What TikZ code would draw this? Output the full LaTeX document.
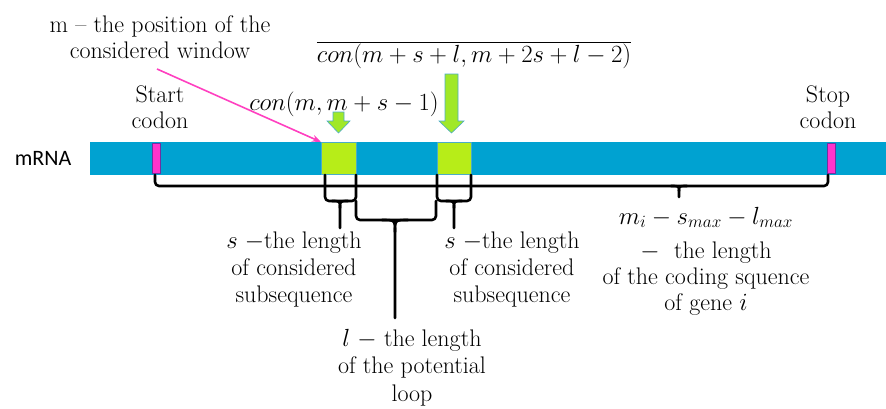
\documentclass[tikz,border=0pt]{standalone}
\usepackage{fontspec}
\newfontfamily\carl{Carlito}
\usetikzlibrary{arrows.meta}
\definecolor{barblue}{RGB}{0,162,209}
\definecolor{boxgreen}{RGB}{183,237,24}
\definecolor{arrgreen}{RGB}{160,232,40}
\definecolor{arredge}{RGB}{75,172,198}
\definecolor{markmag}{RGB}{255,51,204}
\definecolor{markedge}{RGB}{112,48,160}
\definecolor{pinkarr}{RGB}{255,64,192}
\begin{document}
\begin{tikzpicture}[x=1bp,y=-1bp,
  lbl/.style={inner sep=0pt,align=center,font=\fontsize{24bp}{27bp}\selectfont},
  brk/.style={line width=2.6bp,black,line cap=round,line join=round},
  gbox/.style={fill=boxgreen,draw=arredge,line width=0.6bp},
  gmark/.style={fill=markmag,draw=markedge,line width=0.8bp},
  garrow/.style={fill=arrgreen,draw=arredge,line width=0.6bp}]
\useasboundingbox (0,0) rectangle (886,408);
% bar
\fill[barblue] (90,142) rectangle (886,175);
\path[gmark] (152,143) rectangle (160,173);
\path[gmark] (827,143) rectangle (835,173);
\path[gbox] (321,142) rectangle (356,174);
\path[gbox] (437,142) rectangle (471,174);
\coordinate (box1nw) at (321,142);
% mRNA label
\node[inner sep=0pt,font=\carl\fontsize{22bp}{24bp}\selectfont] (mrna) at (43,158) {mRNA};
% green arrows
\path[garrow] (333,112) -- (344,112) -- (344,121) -- (350,121) -- (338.5,133) -- (327,121) -- (333,121) -- cycle;
\path[garrow] (445,74) -- (458,74) -- (458,121) -- (464,121) -- (451.5,133) -- (439,121) -- (445,121) -- cycle;
% labels
\node[lbl,anchor=north,font=\fontsize{24bp}{26bp}\selectfont] (win) at (160,15) {m -- the position of the\\considered window};
\node[lbl,anchor=north,font=\fontsize{24bp}{26bp}\selectfont] (start) at (160,86) {Start\\codon};
\node[lbl,anchor=north,font=\fontsize{24bp}{26bp}\selectfont] (stop) at (828,86) {Stop\\codon};
\node[lbl,anchor=base] (con1) at (344,110) {$con(m,m+s-1)$};
\node[lbl,anchor=base] (con2) at (474,62) {$\overline{con(m+s+l,m+2s+l-2)}$};
\node[lbl,anchor=north] (s1) at (294,232) {$s$ $-$the length\\of considered\\subsequence};
\node[lbl,anchor=north] (s2) at (512,232) {$s$ $-$the length\\of considered\\subsequence};
\node[lbl,anchor=north,font=\fontsize{24bp}{27.5bp}\selectfont] (loop) at (412,329) {$l$ $-$ the length\\of the potential\\loop};
\node[lbl,anchor=base] (cdsmath) at (706,224) {$m_i-s_{max}-l_{max}$};
\node[lbl,anchor=north,font=\fontsize{24bp}{26bp}\selectfont] (cds) at (706,242) {$-$~ the length\\of the coding squence\\of gene $i$};
% pink arrow
\coordinate (pinkstart) at (157,69);
\draw[pinkarr,line width=1.6bp,-{Stealth[length=9bp,width=7bp]}] (pinkstart) -- (box1nw);
% long bracket
\draw[brk,rounded corners=4bp] (155,175) -- (155,186) -- (828,186) -- (828,175);
\draw[brk] (671,186) .. controls (679,186) .. (679,191) -- (679,197);
\draw[brk] (687,186) .. controls (679,186) .. (679,191);
% small brace 1
\draw[brk,rounded corners=4bp] (325,175) -- (325,201) -- (356,201) -- (356,175);
\draw[brk] (332,201) .. controls (340,201) .. (340,208) -- (340,228);
\draw[brk] (348,201) .. controls (340,201) .. (340,208);
% loop brace
\draw[brk,rounded corners=4bp] (356,201) -- (356,220) -- (436,220) -- (436,201);
\draw[brk] (382,220) .. controls (395,220) .. (395,232) -- (395,318);
\draw[brk] (408,220) .. controls (395,220) .. (395,232);
% small brace 2
\draw[brk,rounded corners=4bp] (437,175) -- (437,201) -- (471,201) -- (471,175);
\draw[brk] (446,201) .. controls (454,201) .. (454,208) -- (454,228);
\draw[brk] (462,201) .. controls (454,201) .. (454,208);
\end{tikzpicture}
\end{document}
